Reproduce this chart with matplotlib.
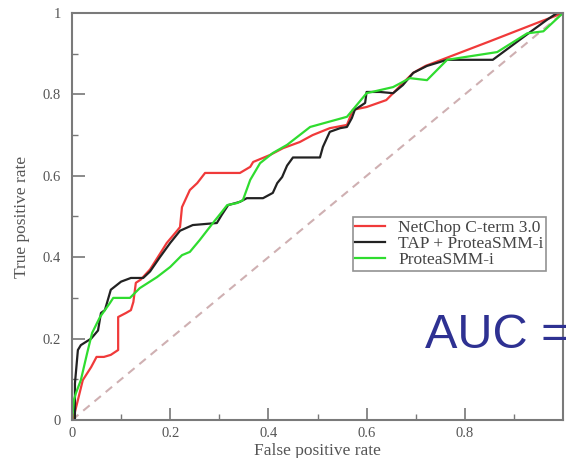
# ROC curves: NetChop / TAP + ProteaSMM-i / ProteaSMM-i
import numpy as np
import matplotlib.pyplot as plt

# curve data (false positive rate, true positive rate)
red_fpr = [0, 0.006, 0.012, 0.022, 0.039, 0.05, 0.065, 0.079, 0.094, 0.094, 0.11, 0.12,
           0.125, 0.13, 0.14, 0.159, 0.18, 0.193, 0.214, 0.22, 0.224, 0.24, 0.255, 0.271,
           0.342, 0.363, 0.369, 0.403, 0.43, 0.464, 0.49, 0.525, 0.56, 0.572, 0.60, 0.64,
           0.654, 0.674, 0.695, 0.72, 0.85, 0.95, 1.0]
red_tpr = [0, 0.02, 0.049, 0.098, 0.13, 0.155, 0.155, 0.16, 0.172, 0.253, 0.263, 0.27,
           0.29, 0.337, 0.345, 0.37, 0.41, 0.435, 0.465, 0.474, 0.523, 0.565, 0.582, 0.607,
           0.607, 0.622, 0.634, 0.651, 0.668, 0.683, 0.70, 0.717, 0.725, 0.762, 0.769, 0.786,
           0.803, 0.828, 0.853, 0.87, 0.93, 0.977, 1.0]

black_fpr = [0, 0.006, 0.006, 0.012, 0.018, 0.039, 0.053, 0.059, 0.067, 0.079, 0.1, 0.12,
             0.145, 0.159, 0.179, 0.2, 0.22, 0.246, 0.295, 0.305, 0.318, 0.342, 0.356, 0.389,
             0.409, 0.418, 0.428, 0.438, 0.45, 0.505, 0.511, 0.525, 0.546, 0.56, 0.57, 0.576,
             0.597, 0.60, 0.627, 0.654, 0.674, 0.695, 0.723, 0.764, 0.857, 0.933, 0.967,
             0.988, 1.0]
black_tpr = [0, 0.0, 0.09, 0.172, 0.184, 0.2, 0.22, 0.263, 0.27, 0.32, 0.34, 0.349,
             0.349, 0.365, 0.40, 0.435, 0.465, 0.479, 0.484, 0.504, 0.528, 0.536, 0.545, 0.545,
             0.558, 0.582, 0.597, 0.625, 0.645, 0.645, 0.671, 0.708, 0.717, 0.72, 0.742, 0.762,
             0.779, 0.806, 0.806, 0.803, 0.823, 0.853, 0.87, 0.885, 0.885, 0.953, 0.983,
             1.0, 1.0]

green_fpr = [0, 0.004, 0.008, 0.018, 0.031, 0.041, 0.057, 0.077, 0.084, 0.118, 0.138, 0.173,
             0.2, 0.224, 0.24, 0.26, 0.287, 0.305, 0.316, 0.336, 0.348, 0.363, 0.383, 0.409,
             0.438, 0.485, 0.56, 0.60, 0.654, 0.688, 0.723, 0.764, 0.866, 0.927, 0.96, 1.0]
green_tpr = [0, 0.05, 0.066, 0.098, 0.165, 0.214, 0.253, 0.287, 0.30, 0.30, 0.324, 0.351,
             0.376, 0.405, 0.413, 0.442, 0.484, 0.511, 0.528, 0.533, 0.54, 0.59, 0.631, 0.656,
             0.676, 0.72, 0.745, 0.803, 0.818, 0.84, 0.835, 0.885, 0.904, 0.95, 0.955, 1.0]

labels = ["NetChop C-term 3.0", "TAP + ProteaSMM-i", "ProteaSMM-i"]
colors = ["#f03a3a", "#222222", "#2fdc2f"]

plt.rcParams['font.family'] = ['Liberation Serif', 'DejaVu Serif']

fig = plt.figure(figsize=(5.66, 4.58), dpi=100)
ax = fig.add_axes([72 / 566, 38 / 458, 491 / 566, 407 / 458])

# random guess diagonal
ax.plot([0, 1], [0, 1], color="#cfb0b2", lw=1.5, linestyle=(0, (4, 3)))

ax.plot(red_fpr, red_tpr, color=colors[0], lw=1.6, label=labels[0])
ax.plot(black_fpr, black_tpr, color=colors[1], lw=1.6, label=labels[1])
ax.plot(green_fpr, green_tpr, color=colors[2], lw=1.6, label=labels[2])

ax.set_xlim(0, 1)
ax.set_ylim(0, 1)
ax.set_xticks([0, 0.2, 0.4, 0.6, 0.8])
ax.set_xticklabels(["0", "0.2", "0.4", "0.6", "0.8"])
ax.set_yticks([0, 0.2, 0.4, 0.6, 0.8, 1.0])
ax.set_yticklabels(["0", "0.2", "0.4", "0.6", "0.8", "1"])
ax.set_xticks(np.arange(0.1, 1.0, 0.2), minor=True)
ax.set_yticks(np.arange(0.1, 1.0, 0.2), minor=True)
ax.tick_params(which='major', direction='in', length=9, width=1.2, color="#777777",
               labelsize=10.5, labelcolor="#555555")
ax.tick_params(which='minor', direction='in', length=4.5, width=1.0, color="#777777")
ax.tick_params(axis='y', pad=8)
ax.tick_params(axis='x', pad=5)
for s in ax.spines.values():
    s.set_color("#7a7a7a")
    s.set_linewidth(1.5)

ax.set_xlabel("False positive rate", fontsize=12.5, color="#555555", labelpad=2)
ax.set_ylabel("True positive rate", fontsize=12.5, color="#555555", labelpad=9)

leg = ax.legend(loc='upper left', bbox_to_anchor=(0.572, 0.499), borderaxespad=0,
                fontsize=12.5, frameon=True, fancybox=False, borderpad=0.15,
                labelspacing=0.0, handlelength=1.7, handletextpad=0.75)
leg.get_frame().set_edgecolor("#777777")
leg.get_frame().set_linewidth(1.2)
for t in leg.get_texts():
    t.set_color("#444444")

fig.text(425 / 566, (458 - 348) / 458, "AUC =", fontsize=35, color="#2e3192",
         family=['Liberation Sans', 'DejaVu Sans'], va='baseline', ha='left')

fig.savefig("out.png", dpi=100)
